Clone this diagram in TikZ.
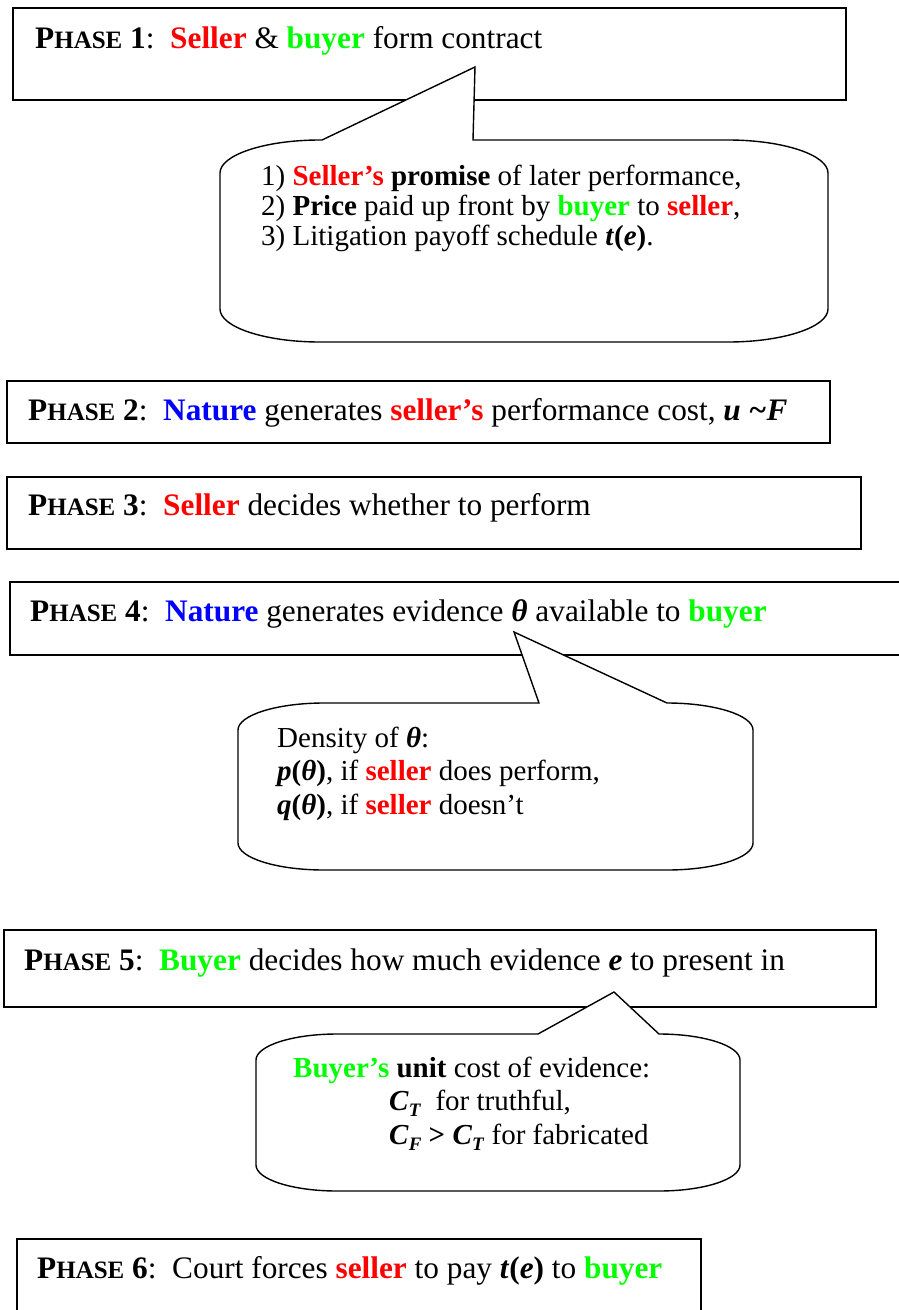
\documentclass[tikz,border=0pt]{standalone}
\usepackage{fontspec}
\setmainfont{Liberation Serif}
\usepackage{tikz}
\usetikzlibrary{calc}
\definecolor{sellerred}{RGB}{255,0,0}
\definecolor{buyergreen}{RGB}{0,255,0}
\definecolor{natureblue}{RGB}{0,0,255}
\newcommand\bi[1]{\textbf{\textit{#1}}}
\newcommand\phase[1]{\textbf{P{\fontsize{25}{30}\selectfont HASE} #1}}
\newcommand\slr[1]{\textcolor{sellerred}{\textbf{#1}}}
\newcommand\byr[1]{\textcolor{buyergreen}{\textbf{#1}}}
\newcommand\ntr[1]{\textcolor{natureblue}{\textbf{#1}}}
\newcommand\sub[1]{\raisebox{-0.22em}{\fontsize{19}{19}\selectfont\bi{#1}}}
% callout: left, top, right, bottom, rx, ry, pointer base left x, pointer base right x, tip
\newcommand\bubble[9]{%
\draw[noteline] (#1,{#2+#6}) .. controls (#1,{#2+0.45*#6}) and ({#1+0.45*#5},#2) .. ({#1+#5},#2)
 -- (#7,#2) -- (#9) -- (#8,#2) -- ({#3-#5},#2)
 .. controls ({#3-0.45*#5},#2) and (#3,{#2+0.45*#6}) .. (#3,{#2+#6})
 -- (#3,{#4-#6}) .. controls (#3,{#4-0.45*#6}) and ({#3-0.45*#5},#4) .. ({#3-#5},#4)
 -- ({#1+#5},#4) .. controls ({#1+0.45*#5},#4) and (#1,{#4-0.45*#6}) .. (#1,{#4-#6}) -- cycle;}
\begin{document}
\begin{tikzpicture}[x=1pt,y=-1pt,
  phasebox/.style={draw, line width=1.6pt, inner sep=0pt, anchor=north west},
  phasetext/.style={anchor=base west, inner sep=0pt, font=\fontsize{31.3}{36}\selectfont},
  notetext/.style={anchor=base west, inner sep=0pt, align=left, font=\fontsize{29}{33.5}\selectfont},
  noteline/.style={draw, line width=1.4pt, fill=white}]
\useasboundingbox (0,0) rectangle (898,1310);
% the six phases
\node[phasebox, minimum width=833pt, minimum height=92pt] (phase1) at (12,7) {};
\node[phasebox, minimum width=823pt, minimum height=62pt] (phase2) at (6,380) {};
\node[phasebox, minimum width=854pt, minimum height=72pt] (phase3) at (6,476) {};
\node[phasebox, minimum width=905pt, minimum height=73pt] (phase4) at (9,581) {};
\node[phasebox, minimum width=872pt, minimum height=77pt] (phase5) at (3,929) {};
\node[phasebox, minimum width=684pt, minimum height=95pt] (phase6) at (16,1238) {};
\node[phasetext] (text1) at (35,48) {\phase{1}:\ \ \slr{Seller} \& \byr{buyer} form contract};
\node[phasetext] (text2) at (28,420) {\phase{2}:\ \ \ntr{Nature} generates \slr{seller’s} performance cost, \bi{u \textasciitilde F}};
\node[phasetext] (text3) at (28,515) {\phase{3}:\ \ \slr{Seller} decides whether to perform};
\node[phasetext] (text4) at (30,621) {\phase{4}:\ \ \ntr{Nature} generates evidence \bi{θ} available to \byr{buyer}};
\node[phasetext] (text5) at (24,970) {\phase{5}:\ \ \byr{Buyer} decides how much evidence \bi{e} to present in};
\node[phasetext] (text6) at (37,1278) {\phase{6}:\ \ Court forces \slr{seller} to pay \bi{t}\textbf{(}\bi{e}\textbf{)} to \byr{buyer}};
% callouts (text nodes sit on the baseline of their last line)
\coordinate (tip1) at (475,67);
\coordinate (tip4) at (514,632);
\coordinate (tip5) at (614,992);
\bubble{220}{140}{828}{342}{100}{33}{322}{473}{tip1}
\bubble{238}{703}{753}{870}{86}{27}{539}{667}{tip4}
\bubble{256}{1034}{740}{1191}{81}{26}{538}{659}{tip5}
\node[notetext, font=\fontsize{29}{30}\selectfont] (note1) at (261,245) {1) \slr{Seller’s} \textbf{promise} of later performance,\\
2) \textbf{Price} paid up front by \byr{buyer} to \slr{seller},\\
3) Litigation payoff schedule \bi{t}\textbf{(}\bi{e}\textbf{)}.};
\node[notetext] (note4) at (277,814) {Density of \bi{θ}:\\
\bi{p}\textbf{(}\bi{θ}\textbf{)}, if \slr{seller} does perform,\\
\bi{q}\textbf{(}\bi{θ}\textbf{)}, if \slr{seller} doesn’t};
\node[notetext] (note5) at (293,1144) {\byr{Buyer’s} \textbf{unit} cost of evidence:\\
\hspace*{96pt}\bi{C}\sub{T}\ \ for truthful,\\
\hspace*{96pt}\bi{C}\sub{F} \textbf{>} \bi{C}\sub{T} for fabricated};
\end{tikzpicture}
\end{document}
